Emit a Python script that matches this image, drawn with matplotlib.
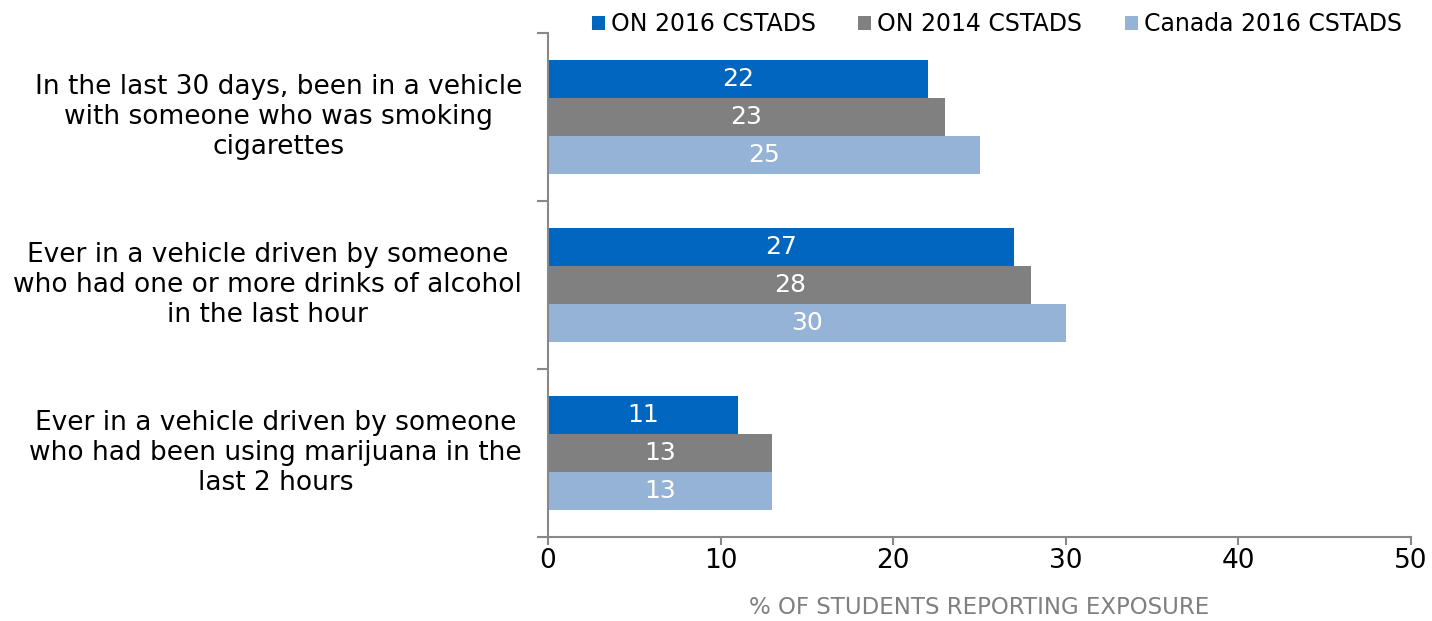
import matplotlib.pyplot as plt
import matplotlib.transforms as mtransforms
import numpy as np

categories = [
    'In the last 30 days, been in a vehicle\nwith someone who was smoking\ncigarettes',
    'Ever in a vehicle driven by someone\nwho had one or more drinks of alcohol\nin the last hour',
    'Ever in a vehicle driven by someone\nwho had been using marijuana in the\nlast 2 hours',
]
series_names = ['ON 2016 CSTADS', 'ON 2014 CSTADS', 'Canada 2016 CSTADS']
on_2016 = [22, 27, 11]
on_2014 = [23, 28, 13]
canada_2016 = [25, 30, 13]
colors = ['#0066C0', '#808080', '#95B3D7']

plt.rcParams['font.family'] = ['DejaVu Sans']

fig = plt.figure(figsize=(14.32, 6.21), dpi=100)
ax = fig.add_axes([548 / 1432, 1 - 537 / 621, (1411 - 548) / 1432, (537 - 33) / 621])

n = len(categories)
pos = np.arange(n)
h = 0.226
axis_col = '#888888'

for i, (vals, name, col) in enumerate(zip([on_2016, on_2014, canada_2016], series_names, colors)):
    y = pos + (i - 1) * h
    bars = ax.barh(y, vals, height=h, color=col, label=name)
    for b, v in zip(bars, vals):
        ax.text(v / 2, b.get_y() + b.get_height() / 2, str(v), color='white',
                ha='center', va='center', fontsize=18)

ax.set_xlim(0, 50)
ax.set_ylim(n - 0.5, -0.5)
ax.set_xticks(range(0, 51, 10))
ax.tick_params(axis='x', labelsize=19, colors=axis_col, labelcolor='black', length=6, width=1.5, pad=2)
ax.set_yticks(np.arange(-0.5, n, 1))
ax.set_yticklabels([])
ax.tick_params(axis='y', colors=axis_col, length=8, width=1.5)

# category labels, right edge ~26 px left of the axis
off = mtransforms.offset_copy(ax.get_yaxis_transform(), fig=fig, x=-26, y=0, units='dots')
for i, c in enumerate(categories):
    ax.text(0, pos[i], c, ha='right', va='center', fontsize=19,
            transform=off, multialignment='center', linespacing=1.2)

for s in ['top', 'right']:
    ax.spines[s].set_visible(False)
for s in ['left', 'bottom']:
    ax.spines[s].set_color(axis_col)
    ax.spines[s].set_linewidth(1.5)

ax.set_xlabel('% OF STUDENTS REPORTING EXPOSURE', fontsize=16.5, color='#7f7f7f', labelpad=16)

ax.legend(loc='center right', bbox_to_anchor=(1.0, 1 + 9 / 504), ncol=3, frameon=False,
          fontsize=17, handlelength=0.55, handleheight=0.55, handletextpad=0.25,
          columnspacing=1.8, borderaxespad=0)

fig.savefig('out.png', dpi=100)
